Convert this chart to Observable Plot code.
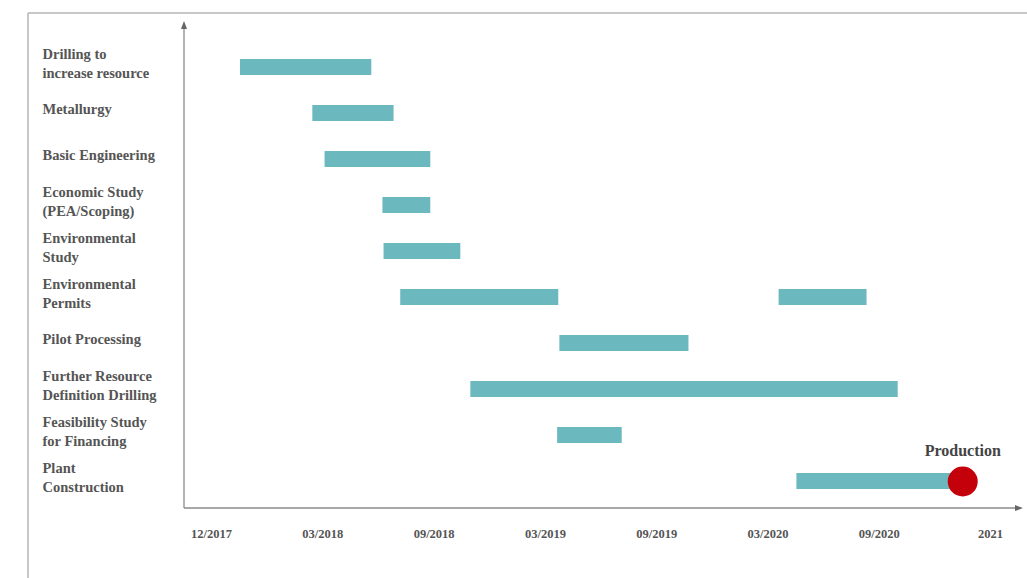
<!DOCTYPE html>
<html>
<head>
<meta charset="utf-8">
<script src="https://cdn.jsdelivr.net/npm/d3@7"></script>
<script src="https://cdn.jsdelivr.net/npm/@observablehq/plot@0.6"></script>
<style>
  html, body { margin: 0; padding: 0; background: #fff; }
  #chart svg { display: block; }
</style>
</head>
<body>
<div id="chart"></div>
<script>
// Tasks (top to bottom)
const tasks = [
  "Drilling to\nincrease resource",
  "Metallurgy",
  "Basic Engineering",
  "Economic Study\n(PEA/Scoping)",
  "Environmental\nStudy",
  "Environmental\nPermits",
  "Pilot Processing",
  "Further Resource\nDefinition Drilling",
  "Feasibility Study\nfor Financing",
  "Plant\nConstruction"
];
// Bars: x in axis-tick units (0 = 12/2017, 1 = 03/2018, ... 7 = 2021)
const barTask  = [0, 1, 2, 3, 4, 5, 5, 6, 7, 8, 9];
const barStart = [0.26, 0.91, 1.02, 1.54, 1.55, 1.70, 5.10, 3.13, 2.33, 3.11, 5.26];
const barEnd   = [1.44, 1.64, 1.97, 1.97, 2.24, 3.12, 5.89, 4.29, 6.17, 3.69, 6.68];
// Tick labels
const tickValues = [0, 1, 2, 3, 4, 5, 6, 7];
const tickLabels = ["12/2017", "03/2018", "09/2018", "03/2019", "09/2019", "03/2020", "09/2020", "2021"];
// Milestone
const milestoneLabel = ["Production"];
const milestoneX = [6.75];
const milestoneTask = [9];

const bars = barTask.map((t, i) => ({task: tasks[t], start: barStart[i], end: barEnd[i]}));
const milestones = milestoneLabel.map((l, i) => ({label: l, x: milestoneX[i], task: tasks[milestoneTask[i]]}));

const axisColor = "#8a8a8a";
const decor = (index, scales, values, dims) => {
  const g = d3.create("svg:g");
  const x0 = dims.marginLeft, y0 = dims.height - dims.marginBottom;
  const x1 = dims.width - dims.marginRight, yTop = dims.marginTop;
  // outer frame lines
  g.append("line").attr("x1", 28).attr("x2", dims.width).attr("y1", 13).attr("y2", 13)
    .attr("stroke", "#b5b5b5").attr("stroke-width", 1.5);
  g.append("line").attr("x1", 28).attr("x2", 28).attr("y1", 13).attr("y2", dims.height)
    .attr("stroke", "#b5b5b5").attr("stroke-width", 1.5);
  // axes
  g.append("line").attr("x1", x0).attr("x2", x0).attr("y1", y0).attr("y2", yTop + 4)
    .attr("stroke", axisColor).attr("stroke-width", 1.3);
  g.append("line").attr("x1", x0).attr("x2", x1 - 4).attr("y1", y0).attr("y2", y0)
    .attr("stroke", axisColor).attr("stroke-width", 1.3);
  g.append("path").attr("d", `M${x0 - 3},${yTop + 7}L${x0},${yTop - 1}L${x0 + 3},${yTop + 7}Z`).attr("fill", "#666");
  g.append("path").attr("d", `M${x1 - 7},${y0 - 3}L${x1 + 1},${y0}L${x1 - 7},${y0 + 3}Z`).attr("fill", "#666");
  return g.node();
};

const chart = Plot.plot({
  width: 1027,
  height: 578,
  marginLeft: 184,
  marginRight: 5,
  marginTop: 22,
  marginBottom: 70,
  style: {fontFamily: "'Liberation Serif', 'DejaVu Serif', serif", fontWeight: "bold", color: "#555", background: "#fff", overflow: "visible"},
  x: {domain: [-0.243, 7.287]},
  y: {domain: tasks, range: [43, 504], padding: 0, axis: null},
  marks: [
    decor,
    Plot.axisX({ticks: tickValues, tickFormat: d => tickLabels[d], tickSize: 0, tickPadding: 21, fontSize: 12.5, label: null, fill: "#555"}),
    Plot.barX(bars, {x1: "start", x2: "end", y: "task", fill: "#6cb8bf", insetTop: 15, insetBottom: 15}),
    Plot.text(tasks, {y: d => d, text: d => d, frameAnchor: "left", dx: -142, dy: -5, textAnchor: "start", lineHeight: 1.28, fontSize: 14.5, fill: "#555"}),
    Plot.dot(milestones, {x: "x", y: "task", r: 15, fill: "#c4000b"}),
    Plot.text(milestones, {x: "x", y: "task", text: "label", dy: -31, fontSize: 16, fill: "#444"})
  ]
});
document.getElementById("chart").appendChild(chart);
</script>
</body>
</html>
